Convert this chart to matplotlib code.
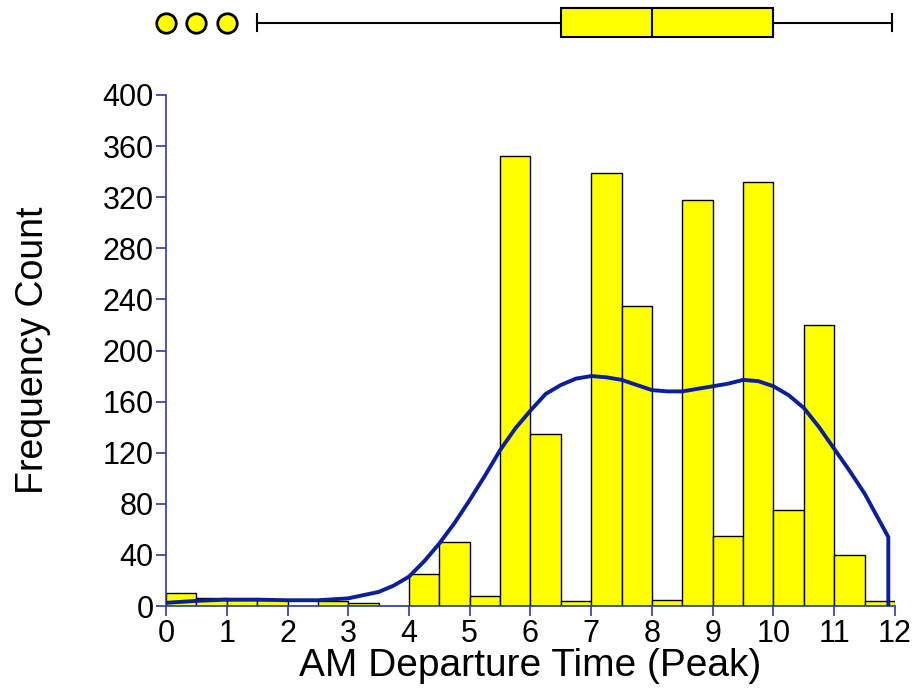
import numpy as np
import matplotlib
matplotlib.use("Agg")
import matplotlib.pyplot as plt

plt.rcParams['font.family'] = ['Liberation Sans', 'DejaVu Sans']

# Histogram of departure times (half-hour bins, 0..12)
bin_edges = np.arange(0, 12.5, 0.5)
counts = [10, 6, 5, 5, 0, 4, 2, 0, 25, 50, 8, 352,
          135, 4, 339, 235, 5, 318, 55, 332, 75, 220, 40, 4]

# Smoothed density curve, scaled to counts
kde_x = [0, 0.5, 1, 1.5, 2, 2.5, 3, 3.5, 3.75, 4, 4.25, 4.5, 4.75, 5, 5.25,
         5.5, 5.75, 6, 6.25, 6.5, 6.75, 7, 7.25, 7.5, 7.75, 8, 8.25, 8.5,
         8.75, 9, 9.25, 9.5, 9.75, 10, 10.25, 10.5, 10.75, 11, 11.25, 11.5,
         11.89, 11.89]
kde_y = [2.5, 4, 5, 5, 4.5, 4.5, 6, 11, 16, 23, 35, 49, 65, 83, 102,
         122, 139, 153, 166, 173, 178, 180, 179, 177, 173, 169, 168, 168,
         170, 172, 174, 177, 176, 172, 165, 155, 140, 123, 106, 88,
         54, 0]

# Box plot summary
box_q1, box_med, box_q3 = 6.5, 8.0, 10.0
whisker_lo, whisker_hi = 1.5, 11.95
outliers = [0, 0.5, 1]

x_ticks = list(range(0, 13))
y_ticks = list(range(0, 401, 40))

axis_blue = '#2b3aa8'
curve_blue = '#0a1f9c'

W, H = 920, 698
fig = plt.figure(figsize=(W / 100, H / 100), dpi=100)

left, right = 166 / W, 895 / W
bottom, top = 1 - 606 / H, 1 - 95 / H
ax = fig.add_axes([left, bottom, right - left, top - bottom])

ax.bar(bin_edges[:-1], counts, width=0.5, align='edge',
       color='#ffff00', edgecolor='black', linewidth=1.0, zorder=2)
ax.plot(kde_x, kde_y, color=curve_blue, linewidth=2.8, zorder=3,
        solid_joinstyle='round', solid_capstyle='butt')

ax.set_xlim(0, 12)
ax.set_ylim(0, 400)
ax.set_xticks(x_ticks)
ax.set_yticks(y_ticks)
for side in ('top', 'right'):
    ax.spines[side].set_visible(False)
for side in ('left', 'bottom'):
    ax.spines[side].set_color(axis_blue)
    ax.spines[side].set_linewidth(1.2)
ax.tick_params(direction='out', length=7, width=1.2, color=axis_blue,
               labelsize=22, labelcolor='black', pad=2)
ax.set_xlabel('AM Departure Time (Peak)', fontsize=28, labelpad=0)
ax.set_ylabel('Frequency Count', fontsize=27)
ax.yaxis.set_label_coords(-0.158, 0.5)

# Box plot strip above the histogram
bax = fig.add_axes([left, 1 - 45 / H, right - left, 45 / H])
stats = [dict(med=box_med, q1=box_q1, q3=box_q3,
              whislo=whisker_lo, whishi=whisker_hi, fliers=outliers)]
bax.bxp(stats, positions=[0.5], widths=0.64, vert=False, patch_artist=True,
        capwidths=[0.36],
        boxprops=dict(facecolor='#ffff00', edgecolor='black', linewidth=1.5),
        medianprops=dict(color='black', linewidth=1.5),
        whiskerprops=dict(color='black', linewidth=1.5),
        capprops=dict(color='black', linewidth=1.5),
        flierprops=dict(marker='o', markerfacecolor='#ffff00',
                        markeredgecolor='black', markersize=14,
                        markeredgewidth=2, clip_on=False))
bax.set_xlim(0, 12)
bax.set_ylim(0, 1)
bax.axis('off')

fig.savefig('out.png', dpi=100)
